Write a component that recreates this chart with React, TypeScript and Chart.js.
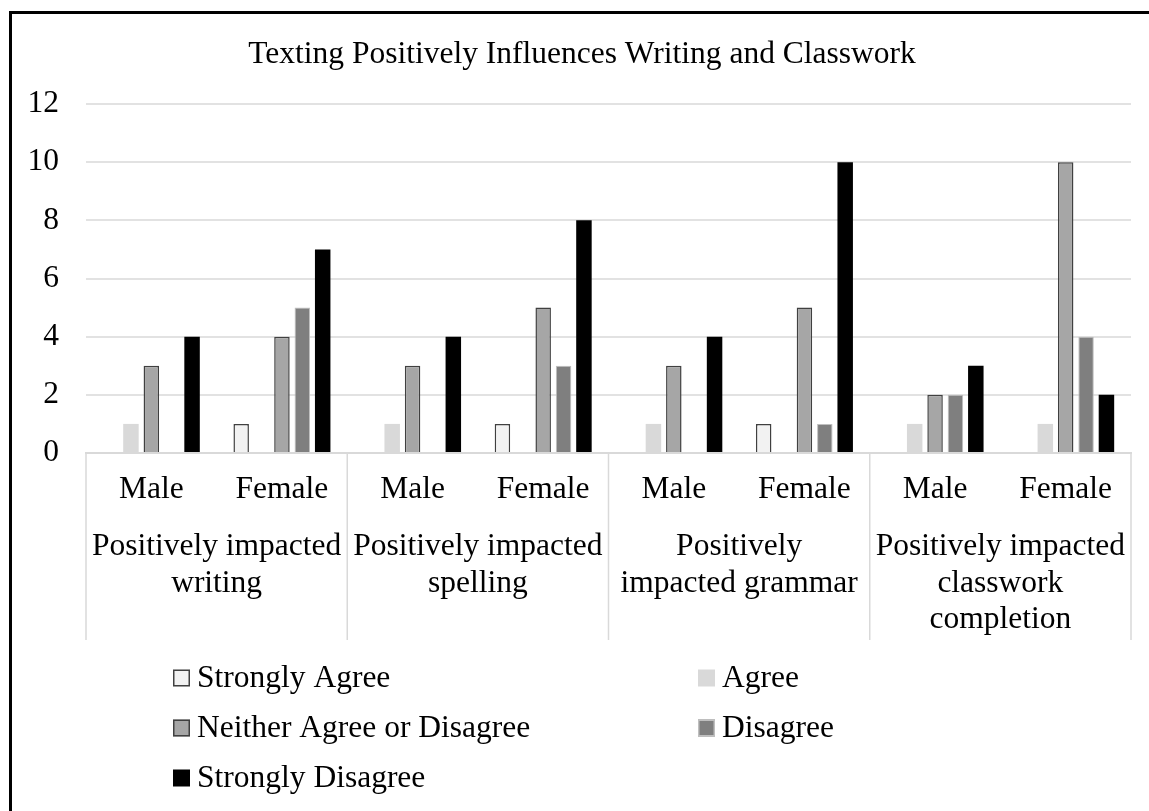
import React, { useEffect, useRef } from "react";
import { Chart, registerables } from "chart.js";

Chart.register(...registerables);

// Survey responses, counted per gender within each statement
const genders = ["Male", "Female", "Male", "Female", "Male", "Female", "Male", "Female"];
const groupLabels: string[][] = [
  ["Positively impacted", "writing"],
  ["Positively impacted", "spelling"],
  ["Positively", "impacted grammar"],
  ["Positively impacted", "classwork", "completion"],
];
const seriesNames = [
  "Strongly Agree",
  "Agree",
  "Neither Agree or Disagree",
  "Disagree",
  "Strongly Disagree",
];
const stronglyAgree = [0, 1, 0, 1, 0, 1, 0, 0];
const agree = [1, 0, 1, 0, 1, 0, 1, 1];
const neither = [3, 4, 3, 5, 3, 5, 2, 10];
const disagree = [0, 5, 0, 3, 0, 1, 2, 4];
const stronglyDisagree = [4, 7, 4, 8, 4, 10, 3, 2];
const yTicks = [0, 2, 4, 6, 8, 10, 12];

const TITLE = "Texting Positively Influences Writing and Classwork";
const FONT = "'Liberation Serif', 'Times New Roman', serif";
const FS = 31.5;

const fills = ["#f2f2f2", "#d9d9d9", "#a6a6a6", "#7f7f7f", "#000000"];
const borders = ["#404040", "#d9d9d9", "#404040", "#bfbfbf", "#000000"];
const borderWidths = [1.5, 0, 1.5, 1, 0];

// Frame, title, group labels with separators, and a two-column legend
const decorPlugin = {
  id: "decor",
  afterDraw(chart: any) {
    const ctx = chart.ctx as CanvasRenderingContext2D;
    const x = chart.scales.x;
    const area = chart.chartArea;
    const catW = (area.right - area.left) / genders.length;

    ctx.save();
    // frame edges
    ctx.strokeStyle = "#000";
    ctx.lineWidth = 3;
    ctx.beginPath();
    ctx.moveTo(9, 12.5);
    ctx.lineTo(chart.width, 12.5);
    ctx.moveTo(10.5, 11);
    ctx.lineTo(10.5, chart.height);
    ctx.stroke();

    // title
    ctx.fillStyle = "#000";
    ctx.font = `${FS}px ${FONT}`;
    ctx.textAlign = "center";
    ctx.textBaseline = "middle";
    ctx.fillText(TITLE, 582, 55);

    // group separators below the axis
    const sepBottom = x.bottom;
    ctx.strokeStyle = "#d9d9d9";
    ctx.lineWidth = 1.5;
    ctx.beginPath();
    for (let g = 0; g <= groupLabels.length; g++) {
      const px = g < groupLabels.length
        ? x.getPixelForValue(g * 2) - catW / 2
        : x.getPixelForValue(genders.length - 1) + catW / 2;
      ctx.moveTo(px, area.bottom);
      ctx.lineTo(px, sepBottom);
    }
    ctx.stroke();

    // group labels
    groupLabels.forEach((lines, g) => {
      const cx = (x.getPixelForValue(g * 2) + x.getPixelForValue(g * 2 + 1)) / 2;
      lines.forEach((line, i) => {
        ctx.fillText(line, cx, area.bottom + 94 + i * 36.5);
      });
    });

    // legend
    const colX = [173, 698];
    const rowY = [678, 728, 778];
    const box = 17;
    ctx.textAlign = "left";
    chart.data.datasets.forEach((ds: any, i: number) => {
      const bx = colX[i % 2];
      const cy = rowY[Math.floor(i / 2)];
      ctx.fillStyle = ds.backgroundColor;
      ctx.fillRect(bx, cy - box / 2, box, box);
      if (ds.borderWidth > 0) {
        ctx.strokeStyle = ds.borderColor;
        ctx.lineWidth = 1.5;
        ctx.strokeRect(bx + 0.75, cy - box / 2 + 0.75, box - 1.5, box - 1.5);
      }
      ctx.fillStyle = "#000";
      ctx.fillText(ds.label, bx + 24, cy + 1);
    });
    ctx.restore();
  },
};

export default function App() {
  const canvasRef = useRef<HTMLCanvasElement | null>(null);

  useEffect(() => {
    if (!canvasRef.current) return;
    const values = [stronglyAgree, agree, neither, disagree, stronglyDisagree];
    const chart = new Chart(canvasRef.current, {
      type: "bar",
      data: {
        labels: genders,
        datasets: seriesNames.map((name, i) => ({
          label: name,
          data: values[i],
          backgroundColor: fills[i],
          borderColor: borders[i],
          borderWidth: borderWidths[i],
          categoryPercentage: 0.78,
          barPercentage: 0.76,
        })),
      },
      options: {
        animation: false,
        responsive: true,
        maintainAspectRatio: false,
        layout: { padding: { left: 10, right: 18, top: 104, bottom: 171 } },
        plugins: {
          legend: { display: false },
          tooltip: { enabled: false },
          title: { display: false },
        },
        scales: {
          x: {
            grid: { display: false, drawTicks: false },
            border: { display: true, color: "#d9d9d9", width: 2 },
            ticks: {
              color: "#000",
              font: { family: FONT, size: FS },
              padding: 18,
              maxRotation: 0,
              autoSkip: false,
            },
            afterFit: (scale: any) => {
              scale.height = 187;
            },
          },
          y: {
            min: 0,
            max: 12,
            afterBuildTicks: (scale: any) => {
              scale.ticks = yTicks.map((v) => ({ value: v }));
            },
            grid: { color: "#e2e2e2", lineWidth: 2, drawTicks: false },
            border: { display: false },
            ticks: {
              color: "#000",
              font: { family: FONT, size: FS },
              padding: 27,
            },
            afterFit: (scale: any) => {
              scale.width = 76;
            },
          },
        },
      },
      plugins: [decorPlugin],
    });
    return () => chart.destroy();
  }, []);

  return (
    <div style={{ position: "fixed", left: 0, top: 0, width: 1149, height: 811, background: "#fff" }}>
      <canvas ref={canvasRef} />
    </div>
  );
}
